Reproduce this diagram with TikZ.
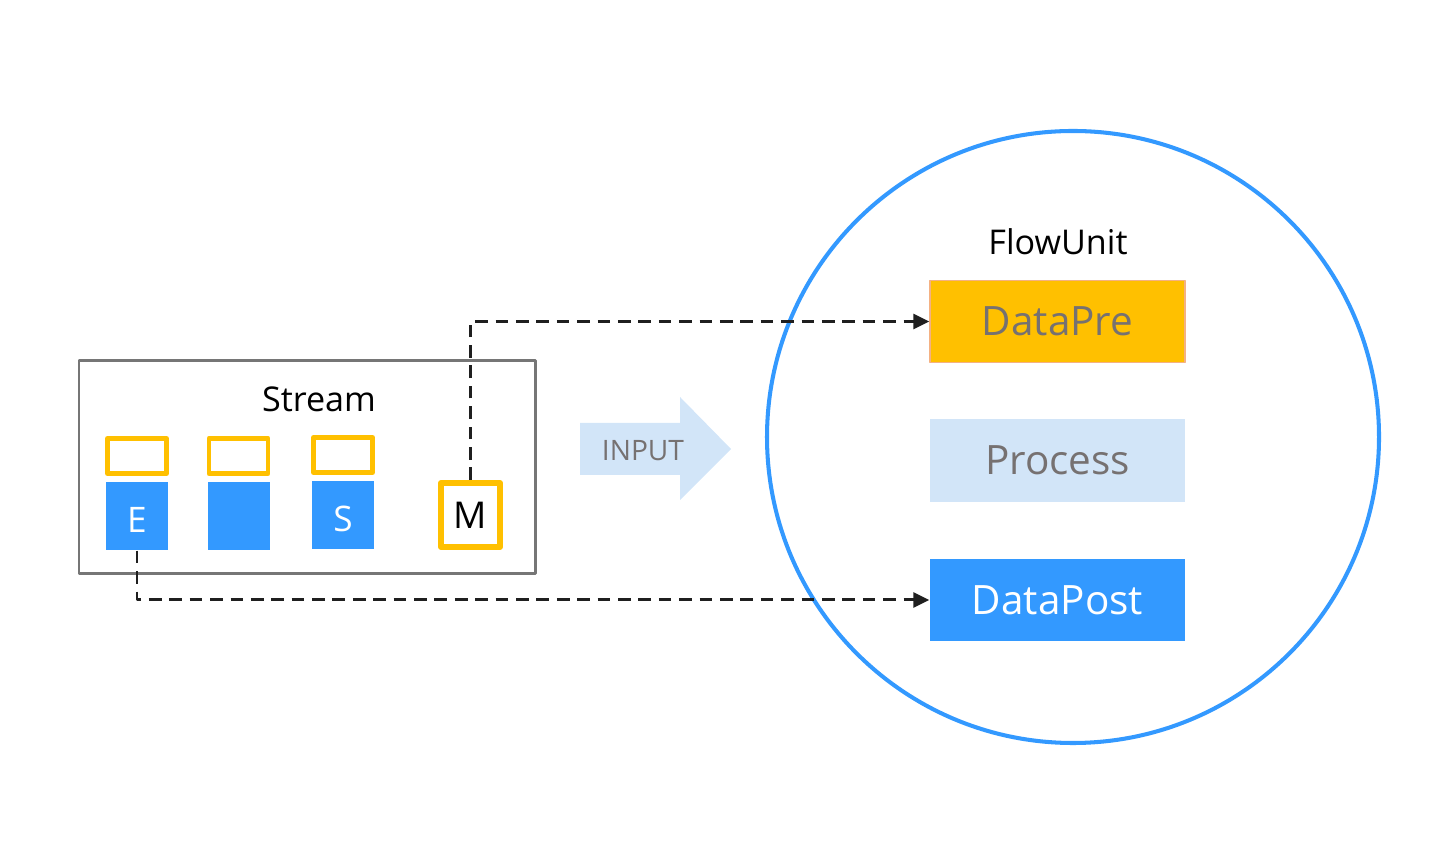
\documentclass[tikz,border=0pt]{standalone}
\usepackage{fontspec}
\setmainfont{Open Sans}
\usetikzlibrary{positioning,arrows.meta}
\definecolor{flowblue}{HTML}{3399FF}
\definecolor{flowgold}{HTML}{FFC000}
\definecolor{paleblue}{HTML}{D2E5F8}
\definecolor{textgray}{HTML}{767171}
\definecolor{framegray}{HTML}{767676}
\definecolor{preedge}{HTML}{F4B183}
\tikzset{
  unitbox/.style={minimum width=2.55cm, minimum height=0.82cm, inner sep=0pt, font=\fontsize{11.5}{13}\selectfont},
  flag/.style={draw=flowgold, line width=1.4pt, minimum width=0.59cm, minimum height=0.35cm, inner sep=0pt},
  item/.style={fill=flowblue, text=white, minimum width=0.62cm, minimum height=0.68cm, inner sep=0pt, text height=9.4pt, text depth=0pt, font=\fontsize{10}{12}\selectfont},
  link/.style={->, line width=0.85pt, dash pattern=on 3.6pt off 2.2pt, color=black!88}
}
\begin{document}
\begin{tikzpicture}[x=0.01cm, y=-0.01cm, line join=round, >={Triangle[length=4.5pt,width=4.2pt]}]
  \useasboundingbox (0,0) rectangle (1431,865);
  % stream side
  \draw[framegray, line width=0.85pt] (79,361) rectangle (535,574);
  \node[font=\fontsize{9.7}{12}\selectfont] (stream) at (319,399) {Stream};
  \node[flag] (f1) at (137,456) {};
  \node[flag] (f2) at (238.5,456) {};
  \node[flag] (f3) at (343,455) {};
  \node[item] (e) at (137,516) {E};
  \node[item] (mid) at (239,516) {};
  \node[item] (s) at (343,515) {S};
  \node[draw=flowgold, line width=1.7pt, minimum width=0.59cm, minimum height=0.64cm, inner sep=0pt,
        font=\fontsize{10.5}{12}\selectfont] (m) at (470.5,515) {M};
  % input arrow
  \fill[paleblue] (580,423) -- (680,423) -- (680,397) -- (731,449) -- (680,500) -- (680,475) -- (580,475) -- cycle;
  \node[text=textgray, font=\fontsize{8}{10}\selectfont] (input) at (643,451) {INPUT};
  % flow unit
  \draw[flowblue, line width=1.15pt] (1073,437) circle[radius=306];
  \node[font=\fontsize{9.7}{12}\selectfont] (flowunit) at (1058,242) {FlowUnit};
  \node[unitbox, fill=flowgold, draw=preedge, line width=0.4pt, text=textgray] (pre) at (1057.5,321.5) {DataPre};
  \node[unitbox, fill=paleblue, text=textgray] (proc) at (1057.5,460.5) {Process};
  \node[unitbox, fill=flowblue, text=white] (post) at (1057.5,600) {DataPost};
  % links
  \draw[link] (m.north) |- (pre.west);
  \draw[link] (e.south) |- (post.west);
\end{tikzpicture}
\end{document}
